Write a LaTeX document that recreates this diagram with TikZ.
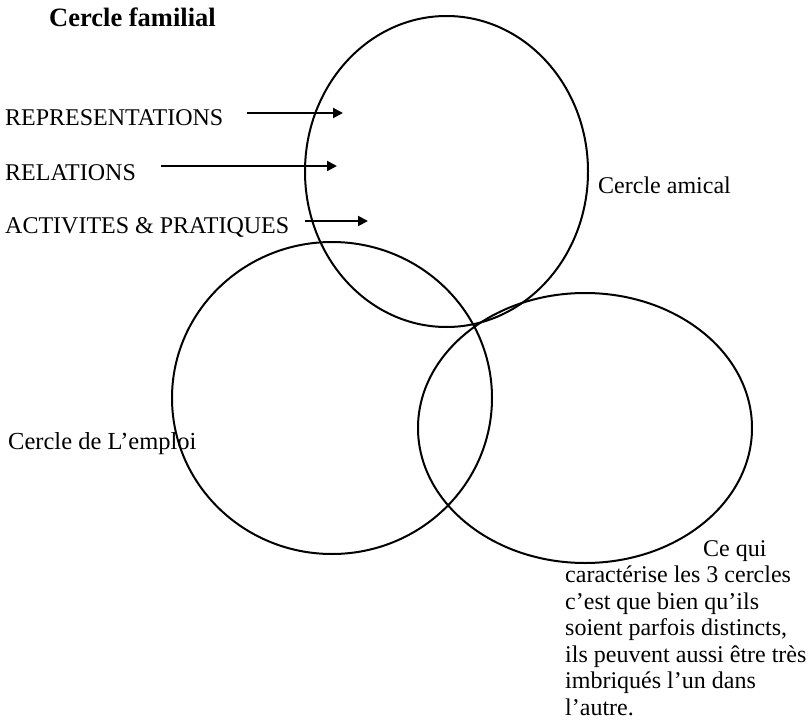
\documentclass[tikz,border=0pt]{standalone}
\usepackage{fontspec}
\setmainfont{Liberation Serif}
\usepackage{tikz}
\usetikzlibrary{shapes,arrows.meta,positioning}
\tikzstyle{arrow} = [line width=2pt, -{Triangle[length=10pt,width=10pt]}]
\tikzstyle{oval} = [draw, ellipse, line width=2pt, inner sep=0pt]
\tikzstyle{lbl} = [inner sep=0pt, anchor=base west, font=\fontsize{24}{26.5}\selectfont]

\begin{document}
\begin{tikzpicture}[x=1pt,y=-1pt]
\useasboundingbox (0,0) rectangle (809,728);
%\begin{scope}
% the three circles
\node[oval, minimum width=283pt, minimum height=311pt] (familial) at (446.5,171.5) {};
\node[oval, minimum width=320pt, minimum height=312pt] (emploi) at (332,398) {};
\node[oval, minimum width=334pt, minimum height=270pt] (amical) at (585,428) {};

% labels
\node[lbl, font=\fontsize{26.5}{28}\selectfont\bfseries] (titre) at (49,27) {Cercle familial};
\node[lbl] (repr) at (5,125) {REPRESENTATIONS};
\node[lbl] (rel) at (5,180) {RELATIONS};
\node[lbl] (act) at (5,233) {ACTIVITES \& PRATIQUES};
\node[lbl] (lamical) at (598,193) {Cercle amical};
\node[lbl, font=\fontsize{24.5}{26.5}\selectfont] (lemploi) at (8,449) {Cercle de L’emploi};
\node[lbl, anchor=north west, align=left] (note) at (565,540)
  {\hspace*{138pt}Ce qui\\
   caractérise les 3 cercles\\
   c’est que bien qu’ils\\
   soient parfois distincts,\\
   ils peuvent aussi être très\\
   imbriqués l’un dans\\
   l’autre.};

% arrows into the family circle
\coordinate (r1) at (247,113);
\coordinate (r2) at (343,113);
\coordinate (s1) at (161,166);
\coordinate (s2) at (337,166);
\coordinate (a1) at (305,221);
\coordinate (a2) at (368,221);
\draw[arrow] (r1) -- (r2);
\draw[arrow] (s1) -- (s2);
\draw[arrow] (a1) -- (a2);
%\end{scope}
\end{tikzpicture}
\end{document}
